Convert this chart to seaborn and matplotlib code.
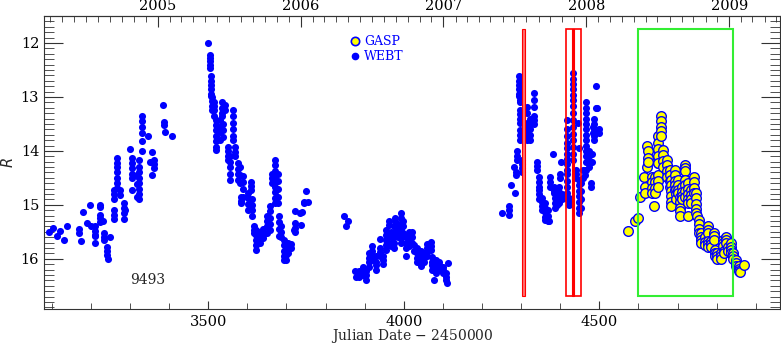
import pandas as pd
import seaborn as sns
import matplotlib.pyplot as plt
from matplotlib.patches import Rectangle
from matplotlib.lines import Line2D
from matplotlib.ticker import MultipleLocator, FixedLocator

# Light curve: nights (JD - 2450000) and the R mags taken on each night
webt_jd_05 = [3092, 3102, 3112, 3122, 3132, 3140, 3169, 3170, 3175, 3180, 3190, 3197, 3199,
              3211, 3224, 3230, 3233, 3241, 3243, 3248, 3258, 3267, 3275, 3284, 3288, 3301,
              3305, 3318, 3322, 3330, 3345, 3352, 3356, 3362, 3384, 3387, 3389, 3408]
webt_r_05 = [[15.50], [15.43], [15.57], [15.48], [15.65], [15.40], [15.45], [15.52], [15.67],
             [15.14], [15.33], [15.00], [15.40], [15.40, 15.48, 15.55, 15.58, 15.71],
             [15.00, 15.04, 15.19, 15.25, 15.32], [15.30], [15.52, 15.60, 15.65],
             [15.78, 15.85, 15.92], [16.00], [15.60], [15.10, 15.18, 15.27, 14.72, 14.80, 14.90],
             [14.13, 14.22, 14.30, 14.40, 14.50, 14.60, 14.68], [14.72, 14.82],
             [14.96, 15.05, 15.15, 15.27], [15.10], [13.96], [14.13, 14.22, 14.32, 14.42, 14.50, 14.72],
             [14.45, 14.62, 14.85], [14.17, 14.30, 14.40, 14.50, 14.60, 14.70, 14.80, 14.90],
             [13.36, 13.45, 13.55, 13.67, 13.81, 14.01], [13.72], [14.20], [14.02, 14.44],
             [14.17, 14.24, 14.31], [13.15], [13.46, 13.52], [13.65], [13.72]]

webt_jd_06 = [3500, 3504, 3506, 3509, 3515, 3521, 3530, 3534, 3538, 3542, 3551, 3555, 3564,
              3568, 3576, 3580, 3585, 3589, 3602, 3609, 3611, 3617, 3621, 3632, 3640, 3649,
              3657, 3664, 3670, 3678, 3681, 3687, 3694, 3700, 3705, 3712, 3718, 3721, 3722,
              3734, 3738, 3740, 3746, 3749, 3755]
webt_r_06 = [[12.00], [12.22, 12.28, 12.34, 12.40, 12.46], [12.62, 12.70, 12.78, 12.86, 12.94, 12.99],
             [13.00, 13.08, 13.16, 13.24], [13.09, 13.17, 13.25, 13.36],
             [13.43, 13.52, 13.62, 13.72, 13.82, 13.92, 13.98], [13.43, 13.55, 13.65, 13.80],
             [13.10, 13.20, 13.30, 13.36], [13.50, 13.62, 13.75], [13.15, 13.25],
             [13.92, 14.00, 14.10, 14.17], [14.10, 14.20, 14.30, 14.42, 14.54],
             [13.24, 13.35, 13.48, 13.60, 13.72, 13.80], [13.92, 14.02, 14.10],
             [14.23, 14.33, 14.43, 14.54], [14.30, 14.45, 14.60], [14.85, 14.92, 14.97],
             [14.47, 14.58, 14.70, 14.85], [14.78, 14.88, 14.98, 15.09], [14.57, 14.65, 14.72],
             [14.90, 15.00, 15.10, 15.21], [15.40, 15.46, 15.52], [15.46, 15.56, 15.66, 15.75, 15.83],
             [15.50, 15.60, 15.70], [15.45, 15.55, 15.62], [15.21, 15.30, 15.40, 15.52],
             [15.02, 15.12, 15.24, 15.36, 15.46], [14.42, 14.50, 14.60],
             [14.17, 14.27, 14.37, 14.47, 14.57, 14.67, 14.77, 14.87, 14.97],
             [14.42, 14.55, 14.70, 14.85, 14.97], [15.21, 15.32, 15.45, 15.58], [15.40, 15.50, 15.60],
             [15.65, 15.75, 15.85, 15.95, 16.02], [15.72, 15.82, 15.92, 16.02], [15.70, 15.80, 15.90],
             [15.72, 15.80], [15.46], [15.33, 15.42, 15.50], [15.12], [15.16], [15.38], [15.13],
             [14.94, 14.97], [14.75], [14.94]]

webt_jd_07 = [3848, 3851, 3857, 3876, 3878, 3886, 3895, 3903, 3912, 3919, 3929, 3939, 3946,
              3954, 3961, 3967, 3975, 3978, 3984, 3992, 3997, 4005, 4014, 4022, 4026, 4035,
              4043, 4052, 4060, 4069, 4073, 4077, 4082, 4090, 4099, 4107, 4111, 4114]
webt_r_07 = [[15.20], [15.39], [15.30], [16.22], [16.34], [16.22, 16.28, 16.34], [16.15, 16.22, 16.30],
             [16.22, 16.30, 16.40], [15.90, 15.98, 16.06, 16.15], [15.77, 15.85, 15.93, 16.02],
             [15.95, 16.05, 16.12, 16.20], [15.64, 15.80, 15.87, 15.95], [15.95, 16.02, 16.10],
             [15.46, 15.55, 15.65, 15.74, 15.83], [15.30, 15.37], [15.50, 15.60, 15.70, 15.77],
             [15.40, 15.50, 15.60, 15.70, 15.80], [15.24, 15.30], [15.35, 15.45, 15.52, 15.60],
             [15.15, 15.25, 15.35, 15.45, 15.55, 15.62, 15.70], [15.30, 15.40, 15.52],
             [15.60, 15.70, 15.80, 15.94], [15.50, 15.60, 15.70, 15.77], [15.50, 15.60, 15.70],
             [15.75, 15.85], [15.80, 15.90, 15.98, 16.05], [15.86, 15.95, 16.05, 16.14],
             [15.90, 15.98, 16.05], [15.72, 15.80, 15.88, 15.94], [15.68, 15.76, 15.83],
             [15.96, 16.05, 16.12, 16.20], [16.39], [16.02, 16.10, 16.18, 16.26], [16.05, 16.12, 16.20],
             [16.15, 16.20, 16.26], [16.26, 16.33, 16.39], [16.44], [16.08]]

webt_jd_08 = [4250, 4268, 4275, 4281, 4285, 4287, 4290, 4294, 4298, 4302, 4306, 4311, 4315,
              4323, 4332, 4340, 4345, 4347, 4353, 4362, 4368, 4372, 4375, 4381, 4383, 4387,
              4392, 4396, 4400, 4403, 4405, 4409, 4417, 4422, 4433, 4440, 4445, 4447, 4448,
              4452, 4457, 4464, 4466, 4474, 4478, 4480, 4483, 4487, 4491, 4495, 4500]
webt_r_08 = [[15.16], [15.03, 15.10, 15.18], [14.63], [14.29], [14.78], [14.40, 14.44],
             [14.00, 14.10, 14.17], [12.62, 12.70, 12.78, 12.86, 12.94, 12.99],
             [12.85, 12.95, 13.05, 13.10, 13.24, 13.32, 13.40, 13.48, 13.61, 13.70, 13.80],
             [14.17, 14.25, 14.32, 14.40], [13.70, 13.78], [13.65],
             [13.18, 13.30, 13.48, 13.58, 13.68, 13.80], [13.40, 13.50, 13.60, 13.70, 13.80],
             [12.93, 13.05, 13.18, 13.35, 13.42, 13.50], [14.20, 14.28, 14.35], [14.48, 14.57, 14.66],
             [14.72, 14.80, 14.90], [14.87, 14.95, 15.02, 15.09], [14.97, 15.05, 15.14, 15.22, 15.28],
             [15.10, 15.20, 15.30], [15.30], [14.48, 14.57, 14.66], [14.05], [14.66, 14.74, 14.78],
             [14.78, 14.88, 14.97, 15.05], [14.90, 15.00], [14.66, 14.76, 14.86, 14.97],
             [14.43, 14.50], [14.20], [14.80, 14.90], [14.88],
             [13.43, 13.60, 13.73, 13.85, 13.95, 14.05, 14.15, 14.25, 14.35, 14.43, 14.55, 14.66, 14.78],
             [14.88, 14.95, 15.00],
             [12.56, 12.66, 12.76, 12.86, 12.96, 13.06, 13.16, 13.30, 13.43, 13.55, 13.68, 13.80,
              13.92, 14.05, 14.17],
             [14.35, 14.42, 14.50], [13.48], [13.95], [14.54, 14.64, 14.74, 14.84, 14.94, 15.05, 15.16],
             [14.60, 14.75, 14.90, 15.05], [14.35, 14.50], [14.35, 14.44],
             [13.10, 13.20, 13.30, 13.40, 13.50, 13.60, 13.70, 13.80, 13.90, 14.00, 14.10, 14.20, 14.35],
             [14.00, 14.10, 14.20, 14.30], [14.60, 14.66], [14.05, 14.20], [13.55, 13.67],
             [13.40, 13.50, 13.63, 13.72, 13.80], [12.80, 13.20], [13.20], [13.60, 13.67]]

gasp_jd_09 = [4574, 4591, 4598, 4604, 4615, 4618, 4623, 4625, 4634, 4640, 4642, 4649, 4651,
              4657, 4663, 4672, 4680, 4684, 4693, 4697, 4701, 4706, 4712, 4718, 4720, 4726,
              4728, 4735, 4742, 4748, 4750, 4754, 4760, 4769, 4777, 4786, 4793, 4795, 4802,
              4811, 4815, 4820, 4824, 4828, 4837, 4843, 4849, 4856, 4860, 4870]
gasp_r_09 = [[15.49], [15.30], [15.24], [14.85], [14.48], [14.66, 14.78], [13.91, 14.29],
             [14.01, 14.14, 14.20], [14.48, 14.58, 14.68, 14.78], [15.02], [14.48, 14.58, 14.68, 14.78],
             [14.23, 14.45, 14.55, 14.66], [13.73, 13.85, 13.97, 14.10, 14.23],
             [13.36, 13.45, 13.55, 13.64, 13.73], [13.98, 14.08, 14.18, 14.29],
             [14.17, 14.27, 14.37, 14.48], [14.35, 14.45, 14.55, 14.66],
             [14.54, 14.64, 14.74, 14.84, 14.94, 15.03], [14.35, 14.45, 14.55, 14.64, 14.72],
             [14.70, 14.80, 14.90], [14.54, 14.64, 14.72, 14.78], [14.85, 14.95, 15.05, 15.12, 15.20],
             [14.66, 14.76, 14.84, 14.90], [14.26, 14.32, 14.38], [14.54, 14.64, 14.74, 14.85],
             [14.60, 14.70, 14.80, 14.90, 14.97], [15.20], [14.72, 14.82, 14.90, 14.97],
             [14.48, 14.58, 14.68, 14.78], [14.78, 14.88, 14.98, 15.08, 15.16], [15.20],
             [15.28, 15.36, 15.44, 15.52], [15.52, 15.60, 15.66, 15.71], [15.60, 15.68, 15.75],
             [15.40, 15.46, 15.52, 15.67, 15.72, 15.78], [15.67, 15.72, 15.78], [15.52, 15.58, 15.65],
             [15.83, 15.89, 15.95], [15.90, 15.95, 16.00], [15.90, 15.95, 16.00], [15.65, 15.71, 15.77],
             [15.85, 15.90], [15.60, 15.66, 15.71], [15.78, 15.85], [15.71, 15.78, 15.84, 15.90],
             [15.90, 15.95, 16.00], [16.02, 16.08, 16.14], [16.14, 16.18, 16.22], [16.25], [16.11]]

years = [2005, 2006, 2007, 2008, 2009]


def to_frame(jds, mags, survey):
    rows = [(j, m, survey) for j, ms in zip(jds, mags) for m in ms]
    return pd.DataFrame(rows, columns=['jd', 'R', 'survey'])


webt = pd.concat([to_frame(webt_jd_05, webt_r_05, 'WEBT'),
                  to_frame(webt_jd_06, webt_r_06, 'WEBT'),
                  to_frame(webt_jd_07, webt_r_07, 'WEBT'),
                  to_frame(webt_jd_08, webt_r_08, 'WEBT')])
gasp = to_frame(gasp_jd_09, gasp_r_09, 'GASP')

sns.set_style('ticks')
plt.rcParams['font.family'] = ['DejaVu Serif']

fig = plt.figure(figsize=(7.81, 3.47), dpi=100)
ax = fig.add_axes([44 / 781, 1 - 309 / 347, 736 / 781, 293 / 347])

sns.scatterplot(data=webt, x='jd', y='R', color='blue', s=26, linewidth=0, legend=False, ax=ax, zorder=3)
sns.scatterplot(data=gasp, x='jd', y='R', color='yellow', edgecolor='blue', s=48, linewidth=1.0,
                legend=False, ax=ax, zorder=3)

# observing windows
ax.add_patch(Rectangle((4302, 11.74), 8, 4.95, facecolor='#ff7070', edgecolor='red', lw=0.8, zorder=4))
ax.add_patch(Rectangle((4415, 11.74), 38, 4.95, fill=False, edgecolor='red', lw=1.2, zorder=4))
ax.add_patch(Rectangle((4431, 11.74), 5, 4.95, facecolor='red', edgecolor='red', lw=0.8, zorder=4))
ax.add_patch(Rectangle((4598, 11.74), 245, 4.95, fill=False, edgecolor='#33ee33', lw=1.5, zorder=4))

ax.text(3344, 16.4, '9493', ha='center', va='center', fontsize=10)

handles = [Line2D([], [], ls='none', marker='o', ms=6, mfc='yellow', mec='blue', mew=1.2),
           Line2D([], [], ls='none', marker='o', ms=4.5, mfc='blue', mec='blue')]
ax.legend(handles, ['GASP', 'WEBT'], loc='upper left', bbox_to_anchor=(0.418, 0.935), frameon=False,
          labelcolor='blue', fontsize=9, handlelength=0.6, handletextpad=0.4, labelspacing=0.15,
          borderpad=0, borderaxespad=0)

ax.set_xlim(3080, 4962)
ax.set_ylim(16.93, 11.5)
ax.xaxis.set_major_locator(MultipleLocator(500))
ax.xaxis.set_minor_locator(MultipleLocator(100))
ax.yaxis.set_major_locator(MultipleLocator(1))
ax.yaxis.set_minor_locator(MultipleLocator(0.1))
ax.tick_params(which='both', direction='in', top=False, right=True, colors='#333333', labelcolor='black',
               labelsize=10.5)
ax.tick_params(axis='y', which='major', length=14, width=0.8)
ax.tick_params(axis='y', which='minor', length=7, width=0.6)
ax.tick_params(axis='x', which='major', length=6, width=0.8, pad=4)
ax.tick_params(axis='x', which='minor', length=4, width=0.6)
ax.set_xlabel('Julian Date $-$ 2450000', fontsize=10, labelpad=-1)
ax.set_ylabel('$R$', fontsize=10.5, labelpad=3)
for s in ax.spines.values():
    s.set_color('#333333')
    s.set_linewidth(0.8)

# calendar years on top
year_jd = [pd.Timestamp(f'{y}-01-01').to_julian_date() - 2450000 for y in years]
month_jd = [d.to_julian_date() - 2450000 for d in pd.date_range('2004-01-01', '2009-12-01', freq='MS')]
top = ax.secondary_xaxis('top')
top.set_xticks(year_jd, [str(y) for y in years])
top.xaxis.set_minor_locator(FixedLocator(month_jd))
top.tick_params(which='both', direction='in', colors='#333333', labelcolor='black', labelsize=10.5, pad=2)
top.tick_params(which='major', length=8, width=0.8)
top.tick_params(which='minor', length=4, width=0.6)
top.spines['top'].set_color('#333333')

fig.savefig('out.png', dpi=100)
